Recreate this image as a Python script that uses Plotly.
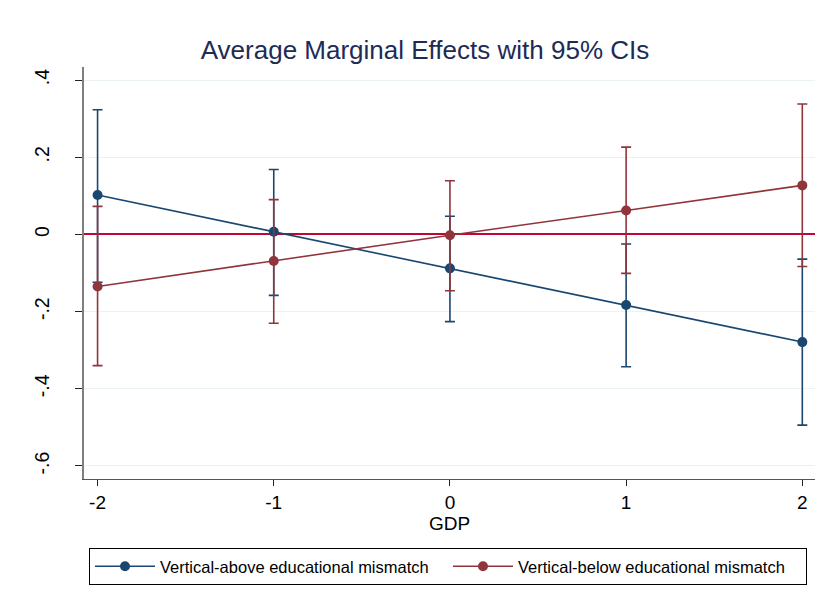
import plotly.graph_objects as go

# ---- data ----
gdp = [-2, -1, 0, 1, 2]

above_est = [0.102, 0.007, -0.088, -0.183, -0.279]
above_lo = [-0.124, -0.158, -0.226, -0.343, -0.494]
above_hi = [0.323, 0.168, 0.047, -0.025, -0.064]

below_est = [-0.135, -0.069, -0.002, 0.062, 0.127]
below_lo = [-0.340, -0.230, -0.146, -0.101, -0.083]
below_hi = [0.0725, 0.090, 0.139, 0.226, 0.338]

y_tickvals = [-0.6, -0.4, -0.2, 0, 0.2, 0.4]
y_ticktext = ["-.6", "-.4", "-.2", "0", ".2", ".4"]
x_tickvals = [-2, -1, 0, 1, 2]
x_ticktext = ["-2", "-1", "0", "1", "2"]

names = ["Vertical-above educational mismatch", "Vertical-below educational mismatch"]
title_text = "Average Marginal Effects with 95% CIs"
x_title = "GDP"

BLUE = "#1a476f"
RED = "#90353b"
FONT = "Liberation Sans, Arial, sans-serif"

# page has an 8px body margin, so the figure is 816x602 inside the 824x610 window
W, H = 816, 602


def err(est, lo, hi):
    return dict(type="data", symmetric=False,
                array=[h - e for h, e in zip(hi, est)],
                arrayminus=[e - l for e, l in zip(est, lo)])


fig = go.Figure()
for est, lo, hi, name, col in [
    (above_est, above_lo, above_hi, names[0], BLUE),
    (below_est, below_lo, below_hi, names[1], RED),
]:
    e = err(est, lo, hi)
    e.update(color=col, thickness=1.6, width=5)
    fig.add_trace(go.Scatter(
        x=gdp, y=est, name=name, mode="lines+markers",
        line=dict(color=col, width=1.6),
        marker=dict(color=col, size=10),
        error_y=e,
    ))

fig.update_layout(
    width=W, height=H,
    margin=dict(l=76, r=9, t=59, b=131, autoexpand=False),
    paper_bgcolor="white", plot_bgcolor="white",
    font=dict(family=FONT, size=18, color="black"),
    title=dict(text=title_text, x=417 / W, xref="container", y=1 - 42 / H, yref="container",
               xanchor="center", yanchor="middle",
               font=dict(family=FONT, size=26, color="#1e2b55")),
    xaxis=dict(range=[-2.077, 2.072], tickvals=x_tickvals, ticktext=x_ticktext,
               showgrid=False, zeroline=False, showline=True, linecolor="#555555", linewidth=1.2,
               ticks="outside", ticklen=6, tickcolor="#222222", tickwidth=1.2,
               tickfont=dict(size=19), automargin=False,
               title=dict(text=x_title, standoff=2, font=dict(size=19))),
    yaxis=dict(range=[-0.6337, 0.4337], tickvals=y_tickvals, ticktext=y_ticktext,
               tickangle=-90, showgrid=True, gridcolor="#eaf2f3", gridwidth=1,
               zeroline=True, zerolinecolor="#c10534", zerolinewidth=1.6,
               showline=True, linecolor="#808080", linewidth=1.6,
               ticks="outside", ticklen=7, tickcolor="#222222", tickwidth=1.2,
               tickfont=dict(size=19.5), ticklabelstandoff=18, automargin=False),
    legend=dict(orientation="h", xref="container", yref="container",
                x=440 / W, xanchor="center", y=1 - 540 / H, yanchor="top",
                bordercolor="black", borderwidth=1, bgcolor="white",
                font=dict(size=16.5), entrywidth=283, itemwidth=60),
    showlegend=True,
)

fig.write_html("out.html")
